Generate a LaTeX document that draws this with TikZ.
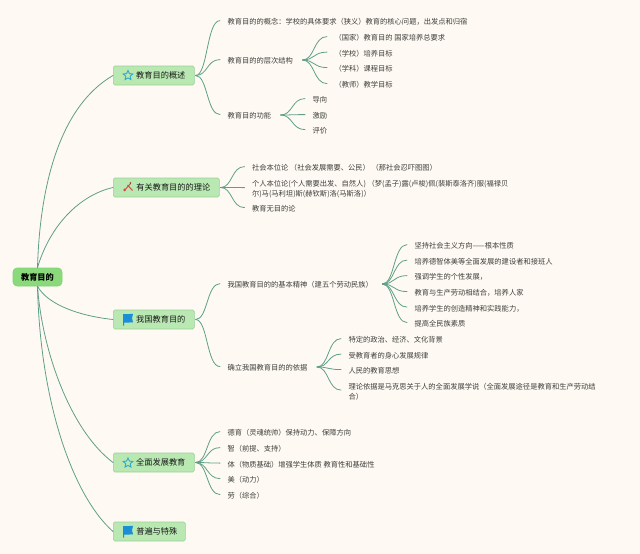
\documentclass[tikz,border=0pt]{standalone}
\usepackage{fontspec}
\setmainfont{Noto Sans CJK SC}
\usetikzlibrary{calc,shapes.geometric}
\definecolor{bgc}{HTML}{FEFAF3}
\definecolor{linec}{HTML}{5F9F87}
\definecolor{branchf}{HTML}{B9E8B2}
\definecolor{branchd}{HTML}{9CD09A}
\definecolor{rootf}{HTML}{8ADA7C}
\definecolor{rootd}{HTML}{80D274}
\definecolor{leaft}{HTML}{3E3E3C}
\definecolor{icob}{HTML}{1A8FD8}
\definecolor{icos}{HTML}{2FA8CC}
\definecolor{icor}{HTML}{D0504A}
\tikzset{
  x=1pt,y=-1pt,
  rootbox/.style={draw=rootd,fill=rootf,line width=.6pt,rounded corners=4pt,minimum width=49pt,minimum height=18pt,inner sep=0pt,text=black,font=\fontsize{8.2}{10}\selectfont\bfseries},
  branchbox/.style={draw=branchd,fill=branchf,line width=.6pt,rounded corners=1.5pt,minimum height=19pt,inner sep=0pt,anchor=west,text=black!90,font=\fontsize{8.2}{10}\selectfont},
  leaf/.style={anchor=west,yshift=-1pt,inner xsep=7.3pt,inner ysep=0pt,text=leaft,align=left,font=\fontsize{7.27}{10.5}\selectfont},
  conn/.style={draw=linec,line width=.8pt,line cap=round},
  staricon/.pic={\node[star,star points=5,star point ratio=2.1,draw=icos,line width=.9pt,minimum size=10pt,inner sep=0pt] at (0,0) {};},
  flagicon/.pic={\fill[icob] (-5,-5.5) .. controls (-2,-4.5) and (1,-6) .. (5,-5.5) -- (4,-1.5) -- (5,3) .. controls (1,2.5) and (-2,4) .. (-4,3) -- (-4,6) -- (-5,6) -- cycle;},
  toolicon/.pic={\draw[icor,line width=1pt] (-4,4) -- (2.5,-3.5);\fill[icor] (-3.3,2.8) circle (1.5);\fill[icor!70!black] (2.5,-4) circle (.8);\draw[icor,line width=1pt] (-.5,-2) -- (4.5,3.5);}
}
% free end of a link sits a little above the centre of its text
\newcommand{\lnk}[2]{\coordinate (lnkend) at ([yshift=1.4pt]#2);\draw[conn] (#1) .. controls ($(#1)!.5!(lnkend|-#1)$) and ($(lnkend)!.55!(#1|-lnkend)$) .. (lnkend);}
\newcommand{\lbl}[1]{\raisebox{-.8pt}{#1}}
\begin{document}
\begin{tikzpicture}
\fill[bgc] (0,0) rectangle (640,554);
\useasboundingbox (0,0) rectangle (640,554);
% root and branches
\node[rootbox] (root) at (37.5,277) {\lbl{教育目的}};
\node[branchbox,minimum width=81pt] (b1) at (113,75.5) {\hspace*{14pt}\lbl{教育目的概述}};
\node[branchbox,minimum width=106pt] (b2) at (113,187.5) {\hspace*{14pt}\lbl{有关教育目的的理论}};
\node[branchbox,minimum width=81pt] (b3) at (113,319.5) {\hspace*{14pt}\lbl{我国教育目的}};
\node[branchbox,minimum width=81pt] (b4) at (113,462.5) {\hspace*{14pt}\lbl{全面发展教育}};
\node[branchbox,minimum width=72pt] (b5) at (113,531.5) {\hspace*{15pt}\lbl{普遍与特殊}};
\pic at (128,75.5) {staricon};
\pic at (128,187) {toolicon};
\pic at (128,319.5) {flagicon};
\pic at (128,463) {staricon};
\pic at (128,531.5) {flagicon};
% root connectors
\draw[conn] (root.north) .. controls (40,180) and (62,105) .. (b1.west);
\draw[conn] (root.north) .. controls (50,225) and (80,195) .. (b2.west);
\draw[conn] (root.south) .. controls (48,305) and (80,316) .. (b3.west);
\draw[conn] (root.south) .. controls (42,350) and (70,430) .. (b4.west);
\draw[conn] (root.south) .. controls (40,400) and (72,495) .. (b5.west);
% branch 1
\node[leaf] (a1) at (220,21) {教育目的的概念：学校的具体要求（狭义）教育的核心问题，出发点和归宿};
\node[leaf] (a2) at (220,60) {教育目的的层次结构};
\node[leaf] (a3) at (220,115) {教育目的功能};
\node[leaf] (a21) at (327,37) {（国家）教育目的 国家培养总要求};
\node[leaf] (a22) at (327,52.5) {（学校）培养目标};
\node[leaf] (a23) at (327,68) {（学科）课程目标};
\node[leaf] (a24) at (327,84) {（教师）教学目标};
\node[leaf] (a31) at (305,99) {导向};
\node[leaf] (a32) at (305,115) {激励};
\node[leaf] (a33) at (305,130) {评价};
\coordinate (fb1) at ([xshift=1pt]b1.east);
\coordinate (fa2) at ([xshift=2pt,yshift=1pt]a2.east);
\coordinate (fa3) at ([xshift=2pt,yshift=1pt]a3.east);
\lnk{fb1}{a1.west}\lnk{fb1}{a2.west}\lnk{fb1}{a3.west}
\lnk{fa2}{a21.west}\lnk{fa2}{a22.west}\lnk{fa2}{a23.west}\lnk{fa2}{a24.west}
\lnk{fa3}{a31.west}\lnk{fa3}{a32.west}\lnk{fa3}{a33.west}
% branch 2
\node[leaf] (c1) at (244.5,167) {社会本位论 （社会发展需要、公民） （那社会忍吓图图）};
\node[leaf] (c2) at (244.5,188) {个人本位论(个人需要出发、自然人) （梦(孟子)露(卢梭)佩(裴斯泰洛齐)服(福禄贝\\尔)马(马利坦)斯(赫钦斯)洛(马斯洛)）};
\node[leaf] (c3) at (244.5,208) {教育无目的论};
\coordinate (fb2) at ([xshift=1pt]b2.east);
\lnk{fb2}{c1.west}\lnk{fb2}{c2.west}\lnk{fb2}{c3.west}
% branch 3
\node[leaf] (d1) at (220,284) {我国教育目的的基本精神（建五个劳动民族）};
\node[leaf] (d2) at (220,367) {确立我国教育目的的依据};
\node[leaf] (d11) at (407,245) {坚持社会主义方向——根本性质};
\node[leaf] (d12) at (407,260.5) {培养德智体美等全面发展的建设者和接班人};
\node[leaf] (d13) at (407,276) {强调学生的个性发展，};
\node[leaf] (d14) at (407,292) {教育与生产劳动相结合，培养人家};
\node[leaf] (d15) at (407,307.5) {培养学生的创造精神和实践能力，};
\node[leaf] (d16) at (407,323) {提高全民族素质};
\node[leaf] (d21) at (341,339) {特定的政治、经济、文化背景};
\node[leaf] (d22) at (341,354.5) {受教育者的身心发展规律};
\node[leaf] (d23) at (341,370) {人民的教育思想};
\node[leaf] (d24) at (341,390.5) {理论依据是马克思关于人的全面发展学说（全面发展途径是教育和生产劳动结\\合）};
\coordinate (fb3) at ([xshift=1pt]b3.east);
\coordinate (fd1) at ([xshift=2pt,yshift=1pt]d1.east);
\coordinate (fd2) at ([xshift=2pt,yshift=1pt]d2.east);
\lnk{fb3}{d1.west}\lnk{fb3}{d2.west}
\lnk{fd1}{d11.west}\lnk{fd1}{d12.west}\lnk{fd1}{d13.west}\lnk{fd1}{d14.west}\lnk{fd1}{d15.west}\lnk{fd1}{d16.west}
\lnk{fd2}{d21.west}\lnk{fd2}{d22.west}\lnk{fd2}{d23.west}\lnk{fd2}{d24.west}
% branch 4
\node[leaf] (e1) at (220,432) {德育（灵魂统帅）保持动力、保障方向};
\node[leaf] (e2) at (220,448) {智（前提、支持）};
\node[leaf] (e3) at (220,463.5) {体（物质基础）增强学生体质 教育性和基础性};
\node[leaf] (e4) at (220,479) {美（动力）};
\node[leaf] (e5) at (220,495) {劳（综合）};
\coordinate (fb4) at ([xshift=1pt]b4.east);
\lnk{fb4}{e1.west}\lnk{fb4}{e2.west}\lnk{fb4}{e3.west}\lnk{fb4}{e4.west}\lnk{fb4}{e5.west}
\end{tikzpicture}
\end{document}
